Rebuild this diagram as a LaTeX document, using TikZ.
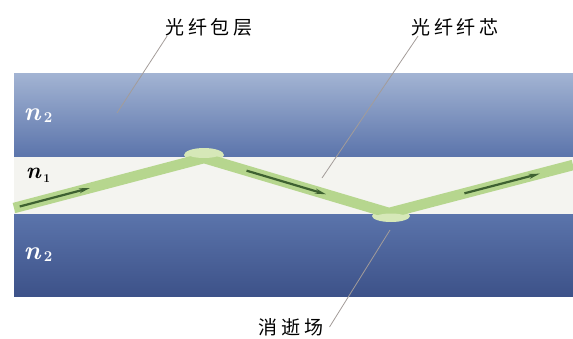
\documentclass[tikz,border=0pt]{standalone}
\usepackage{fontspec}
\newfontfamily\cjk{Noto Sans CJK SC}[LetterSpace=20]
\usetikzlibrary{arrows.meta,calc}

\definecolor{cladtop}{HTML}{A3B4D3}
\definecolor{cladmid}{HTML}{5B74AB}
\definecolor{cladlow}{HTML}{3D5289}
\definecolor{corecol}{HTML}{F4F4F0}
\definecolor{raycol}{HTML}{B6D68E}
\definecolor{fieldcol}{HTML}{D6E8B8}
\definecolor{arrowcol}{HTML}{3E6131}
\definecolor{leadcol}{HTML}{A39C99}

% refractive index: italic n with a lowered digit
\newcommand{\nidx}[4]{{\fontsize{#1}{#1}\selectfont\textit{n}}\raisebox{#3}{\fontsize{#2}{#2}\selectfont\,#4}}

\begin{document}
\begin{tikzpicture}[x=1pt,y=-1pt,
		lbl/.style={inner sep=0pt, font=\cjk\fontsize{19}{21}\selectfont},
		idx/.style={inner sep=0pt, font=\bfseries},
		leader/.style={draw=leadcol, line width=0.8pt},
		dirarrow/.style={draw=arrowcol, line width=2.2pt, -{Stealth[length=11pt,width=5pt]}}]
	\useasboundingbox (0,0) rectangle (573,338);
	% cladding and core layers
	\shade[top color=cladtop, bottom color=cladmid] (14,73) rectangle (573,157);
	\fill[corecol] (14,157) rectangle (573,214);
	\shade[top color=cladmid, bottom color=cladlow] (14,214) rectangle (573,296);

	% ray path through the core
	\coordinate (r0) at (14,208);
	\coordinate (r1) at (204,158);
	\coordinate (r2) at (389,213);
	\coordinate (r3) at (573,165);
	\fill[fieldcol] (204,155) ellipse (20 and 7);
	\fill[fieldcol] (391,216) ellipse (19 and 6);
	\draw[raycol, line width=10.5pt] (r0) -- (r1) -- (r2) -- (r3);
	\fill[fieldcol] (204,153.5) ellipse (17 and 4.5);
	\fill[fieldcol] (391,217.5) ellipse (16 and 4);
	\draw[dirarrow] ($(r0)!0.03!(r1)$) -- ($(r0)!0.40!(r1)$);
	\draw[dirarrow] ($(r1)!0.23!(r2)$) -- ($(r1)!0.66!(r2)$);
	\draw[dirarrow] ($(r2)!0.41!(r3)$) -- ($(r2)!0.82!(r3)$);

	% refractive indices
	\node[idx, white] (n2a) at (38,116) {\nidx{26}{15}{-0.2em}{2}};
	\node[idx, white] (n2b) at (38,255) {\nidx{26}{15}{-0.2em}{2}};
	\node[idx] (n1) at (38,175) {\nidx{23}{12}{-0.4em}{1}};

	% labels with leader lines
	\node[lbl] (cladlbl) at (209,27) {光纤包层};
	\node[lbl] (corelbl) at (455,27) {光纤纤芯};
	\node[lbl] (evlbl) at (291,327) {消逝场};
	\coordinate (cladpt) at (117,113);
	\coordinate (corept) at (322,178);
	\coordinate (evpt) at (390,230);
	\draw[leader] ([xshift=2pt]cladlbl.south west) -- (cladpt);
	\draw[leader] ([xshift=7pt]corelbl.south west) -- (corept);
	\draw[leader] ([xshift=6pt]evlbl.east) -- (evpt);
\end{tikzpicture}
\end{document}
